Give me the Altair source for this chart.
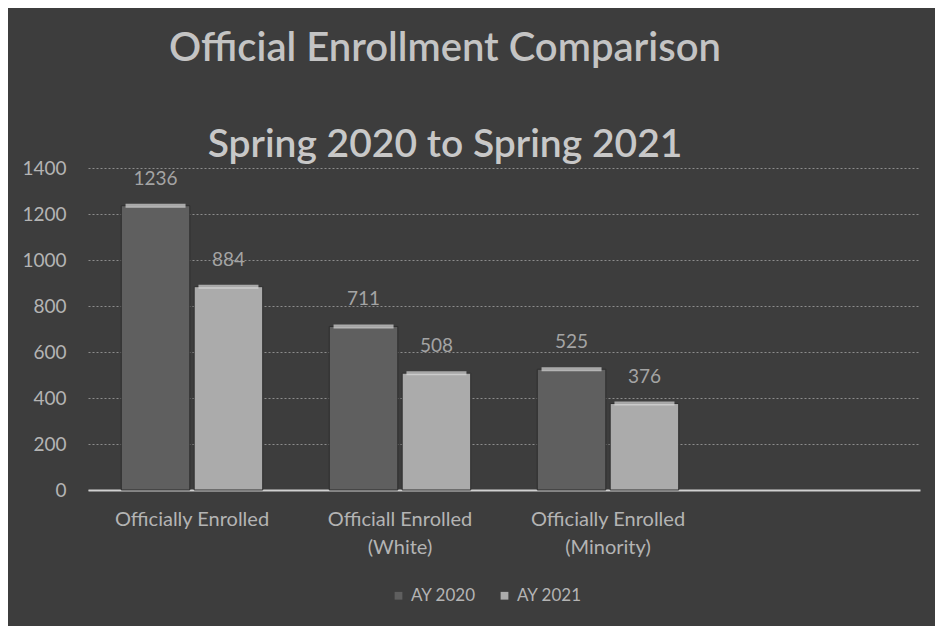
import altair as alt
import pandas as pd

categories = ["Officially Enrolled", "Officiall Enrolled\n(White)", "Officially Enrolled\n(Minority)"]
series = ["AY 2020", "AY 2021"]
ay2020 = [1236, 711, 525]
ay2021 = [884, 508, 376]

rows = []
for c, a, b in zip(categories, ay2020, ay2021):
    rows.append({"cat": c, "series": "AY 2020", "value": a})
    rows.append({"cat": c, "series": "AY 2021", "value": b})
df = pd.DataFrame(rows)

domain_x = categories + [" "]
FONT = "Lato"
TXT = "#b4b4b4"

x = alt.X("cat:N", sort=domain_x,
          scale=alt.Scale(domain=domain_x, paddingInner=0.32, paddingOuter=0.16),
          axis=alt.Axis(title=None, labelAngle=0, labelExpr="split(datum.label, '\\n')",
                        labelFontSize=20, labelColor=TXT, labelFont=FONT, labelPadding=19,
                        ticks=False, domain=True, domainColor="#d0d0d0", domainWidth=2,
                        labelLineHeight=28, grid=False))
xo = alt.XOffset("series:N", sort=series, scale=alt.Scale(paddingInner=0.06))
y = alt.Y("value:Q", scale=alt.Scale(domain=[0, 1400], nice=False),
          axis=alt.Axis(title=None, values=list(range(0, 1401, 200)), format="d",
                        labelFontSize=19, labelColor=TXT, labelFont=FONT, ticks=False,
                        domain=False, labelPadding=22, grid=True, gridColor="#8c8c8c",
                        gridDash=[2, 2], gridWidth=1.2))
color = alt.Color("series:N", sort=series,
                  scale=alt.Scale(domain=series, range=["#5f5f5f", "#ababab"]),
                  legend=alt.Legend(title=None, orient="none", direction="horizontal",
                                    legendX=302, legendY=419, labelFontSize=17,
                                    labelColor=TXT, labelFont=FONT, symbolType="square",
                                    symbolSize=60, columnPadding=20, symbolStrokeWidth=0))

bars = alt.Chart(df).mark_bar(stroke="#2e2e2e", strokeWidth=1).encode(
    x=x, xOffset=xo, y=y, color=color)
caps = alt.Chart(df).mark_tick(color="#d8d8d8", thickness=4, opacity=0.7).encode(
    x=x, xOffset=xo, y="value:Q", size=alt.value(60))
labels = alt.Chart(df).mark_text(dy=-27, fontSize=19, color="#a4a4a4", font=FONT).encode(
    x=x, xOffset=xo, y="value:Q", text="value:Q")

chart = alt.layer(bars, caps, labels).properties(
    width=832, height=322,
    autosize=alt.AutoSizeParams(type="none"),
    padding={"left": 80, "top": 160, "right": 15, "bottom": 136},
    background="#3d3d3d",
    title=alt.TitleParams(text="Official Enrollment Comparison",
                          subtitle="Spring 2020 to Spring 2021",
                          anchor="middle", dx=-59, offset=-6,
                          font=FONT, fontSize=40, fontWeight=600, color="#c4c4c4",
                          subtitleFont=FONT, subtitleFontSize=39, subtitleFontWeight=600,
                          subtitleColor="#c8c8c8", subtitlePadding=57),
).configure_view(stroke=None)

chart.save("out.html", embed_options={"renderer": "svg", "actions": False})
